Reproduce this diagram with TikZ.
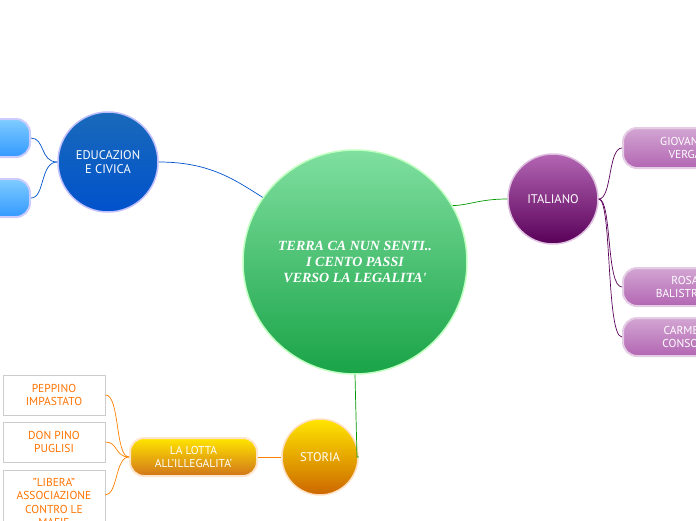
\documentclass[tikz,border=0pt]{standalone}
\usepackage{fontspec}
\setmainfont{PT Sans}
\newfontfamily\serifit{Liberation Serif}
\begin{document}
\begin{tikzpicture}[x=1pt,y=-1pt,
  circ/.style={circle,draw=#1!25,line width=1.5pt,text=white,align=center,font=\fontsize{12.5}{14.5}\selectfont},
  wbox/.style={draw=gray!40,line width=1pt,fill=white,text=orange!90!red,align=center,font=\fontsize{11.5}{13.5}\selectfont,minimum width=102pt,inner sep=1pt},
  pill/.style={rounded corners=14pt,draw=#1!20,line width=2pt,text=white,align=center,font=\fontsize{11.5}{13.5}\selectfont},
  lnk/.style={line width=0.7pt}]
\useasboundingbox (0,0) rectangle (696,520);
\clip (0,0) rectangle (696,520);
% nodes
\node[circ=green,top color=green!50!teal!50,bottom color=green!50!teal!80!black!90,minimum size=224pt,font=\fontsize{14}{16}\selectfont\serifit\bfseries\itshape] (c) at (355,262) {TERRA CA NUN SENTI..\\I CENTO PASSI\\VERSO LA LEGALITA'};
\node[circ=blue,top color=cyan!50!blue!70!black!90,bottom color=cyan!40!blue!80!black,minimum size=100pt] (edu) at (108,162) {EDUCAZION\\E CIVICA};
\node[circ=violet,top color=violet!60,bottom color=violet!70!black,minimum size=90pt] (ita) at (553,199) {ITALIANO};
\node[circ=orange,top color=yellow!80!orange,bottom color=orange!80!black,minimum size=76pt] (sto) at (320,457) {STORIA};
% edu boxes
\node[pill=blue,top color=cyan!60!blue!50,bottom color=cyan!50!blue!80,minimum width=80pt,minimum height=38pt] (e1) at (-10,138) {};
\node[pill=blue,top color=cyan!60!blue!50,bottom color=cyan!50!blue!80,minimum width=80pt,minimum height=38pt] (e2) at (-10,198) {};
% italiano boxes
\node[pill=violet,top color=violet!35,bottom color=violet!60,minimum width=140pt,minimum height=40pt,text width=120pt] (i1) at (693,148) {\hspace*{-16pt}GIOVANNI\\\hspace*{-16pt}VERGA};
\node[pill=violet,top color=violet!35,bottom color=violet!60,minimum width=140pt,minimum height=38pt,text width=120pt] (i2) at (693,287) {\hspace*{-16pt}ROSA\\\hspace*{-16pt}BALISTRERI};
\node[pill=violet,top color=violet!35,bottom color=violet!60,minimum width=140pt,minimum height=38pt,text width=120pt] (i3) at (693,337) {\hspace*{-16pt}CARMEN\\\hspace*{-16pt}CONSOLI};
% storia
\node[pill=orange,top color=yellow!80!orange,bottom color=orange!80!black!90,minimum width=127pt,minimum height=38pt] (lot) at (193.5,457) {LA LOTTA\\ALL'ILLEGALITA'};
\node[wbox,minimum height=40pt] (p1) at (54,395) {PEPPINO\\IMPASTATO};
\node[wbox,minimum height=40pt] (p2) at (54,442) {DON PINO\\PUGLISI};
\node[wbox,minimum height=64pt,anchor=north,text depth=0pt] (p3) at (54,470) {"LIBERA"\\ASSOCIAZIONE\\CONTRO LE\\MAFIE};
% links
\draw[lnk,blue!60!cyan!80!black] (c.145) .. controls (235,180) and (210,162) .. (edu.east);
\draw[lnk,green!60!black] (c.30) .. controls (470,205) and (480,199) .. (ita.west);
\draw[lnk,green!60!black] (c.south) -- (357,457) -- (sto.east);
\draw[lnk,blue!60!cyan!80!black] (edu.west) .. controls (40,162) and (45,138) .. (e1.east);
\draw[lnk,blue!60!cyan!80!black] (edu.west) .. controls (40,162) and (45,198) .. (e2.east);
\draw[lnk,violet!70!black] (ita.east) .. controls (612,199) and (608,148) .. (i1.west);
\draw[lnk,violet!70!black] (ita.east) .. controls (612,199) and (606,287) .. (i2.west);
\draw[lnk,violet!70!black] (ita.east) .. controls (612,199) and (606,337) .. (i3.west);
\draw[lnk,orange] (sto.west) -- (lot.east);
\draw[lnk,orange] (lot.west) .. controls (115,457) and (120,395) .. (p1.east);
\draw[lnk,orange] (lot.west) .. controls (115,457) and (118,442) .. (p2.east);
\draw[lnk,orange] (lot.west) .. controls (115,457) and (118,495) .. (105,495);
\end{tikzpicture}
\end{document}
